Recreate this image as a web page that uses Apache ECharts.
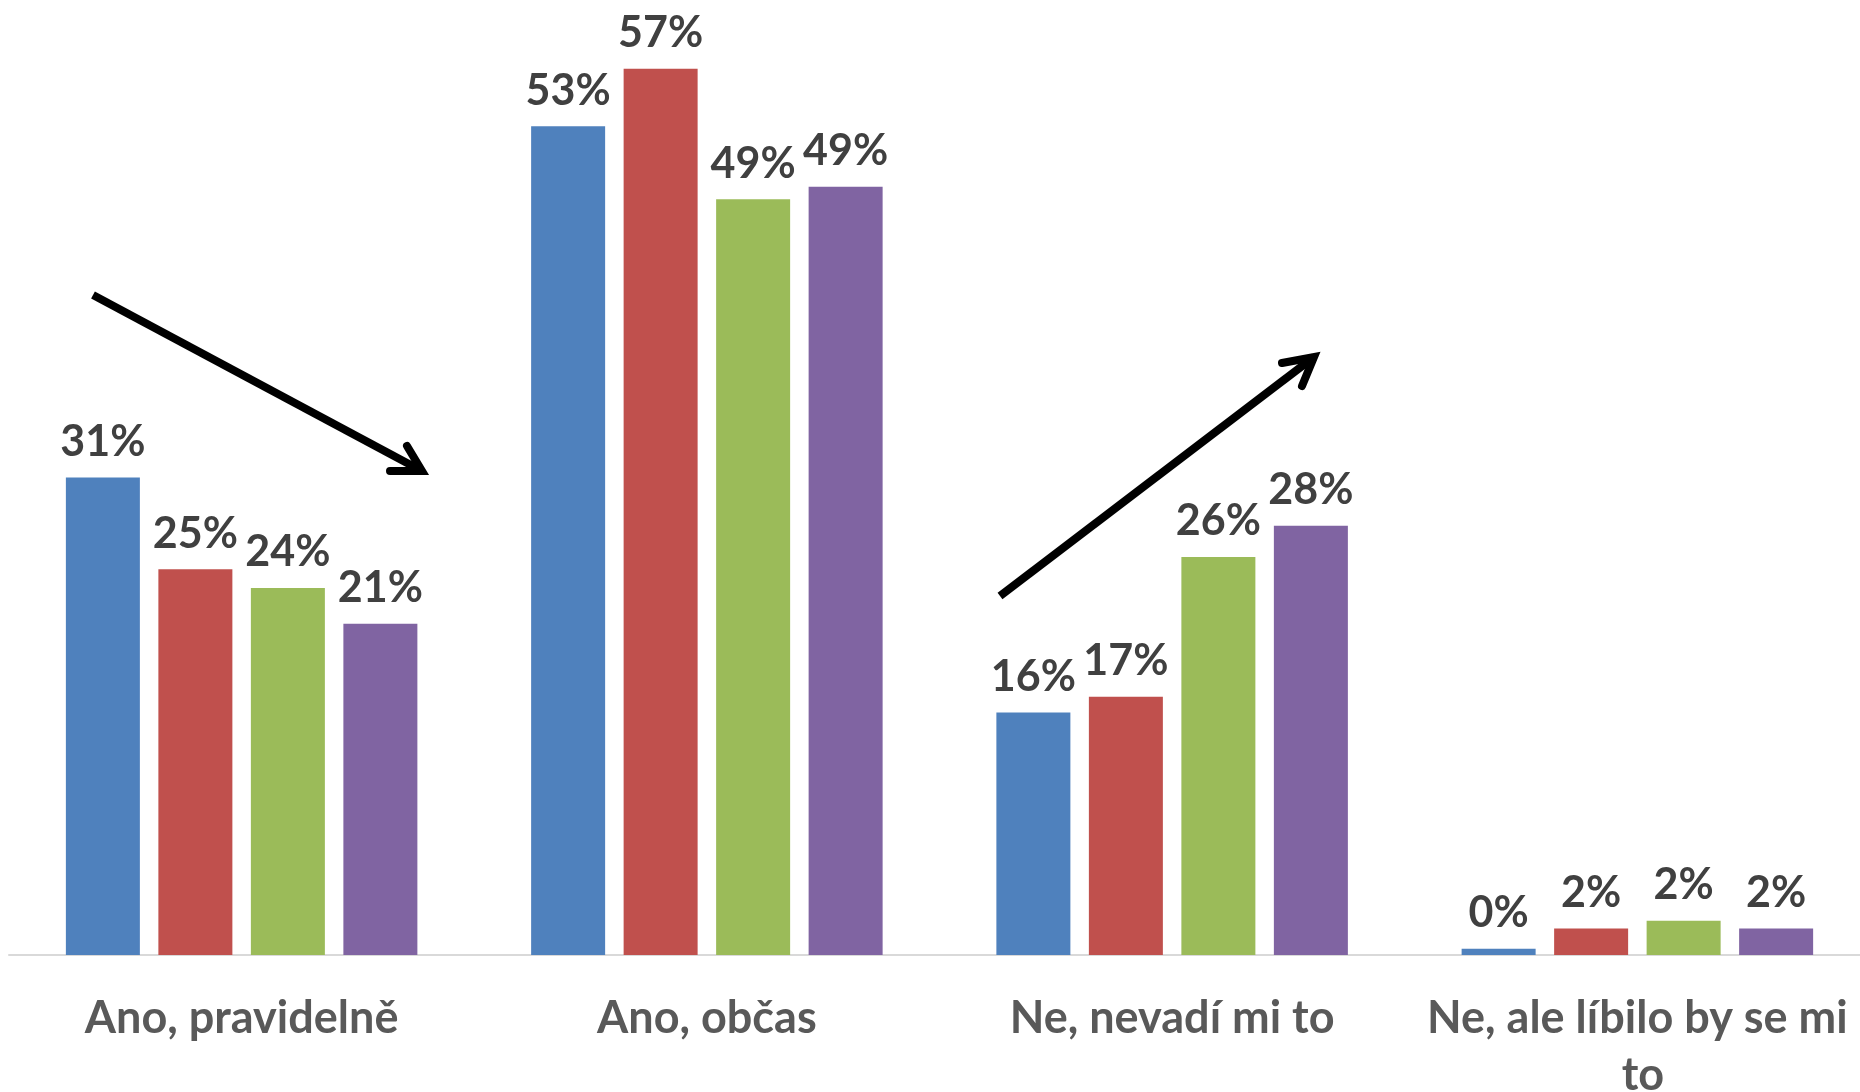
<!DOCTYPE html>
<html>
<head>
<meta charset="utf-8">
<script src="https://cdn.jsdelivr.net/npm/echarts@6/dist/echarts.min.js"></script>
<style>
  html, body { margin: 0; padding: 0; background: #fff; }
  #chart { width: 1860px; height: 1092px; }
</style>
</head>
<body>
<div id="chart"></div>
<script>
// kategorie a hodnoty (v %)
var categories = ['Ano, pravidelně', 'Ano, občas', 'Ne, nevadí mi to', 'Ne, ale líbilo by se mi to'];
var seriesNames = ['Série 1', 'Série 2', 'Série 3', 'Série 4'];
var values1 = [30.7, 53.3, 15.6, 0.4];
var values2 = [24.8, 57.0, 16.6, 1.7];
var values3 = [23.6, 48.6, 25.6, 2.2];
var values4 = [21.3, 49.4, 27.6, 1.7];
var colors = ['#4f81bd', '#c0504d', '#9bbb59', '#8064a2'];

var myChart = echarts.init(document.getElementById('chart'));

function makeSeries(name, data, color) {
    return {
        name: name,
        type: 'bar',
        barWidth: 74,
        barGap: '25%',
        itemStyle: { color: color },
        label: {
            show: true,
            position: 'top',
            distance: 14,
            color: '#404040',
            fontSize: 43,
            fontWeight: 'bold',
            fontFamily: 'Lato',
            formatter: function (p) { return Math.round(p.value) + '%'; }
        },
        data: data
    };
}

// šipky (anotace)
function arrow(x1, y1, x2, y2, a1, a2) {
    return [{
        type: 'line',
        shape: { x1: x1, y1: y1, x2: x2, y2: y2 },
        style: { stroke: '#000', lineWidth: 8 }
    }, {
        type: 'polyline',
        shape: { points: [a1, [x2, y2], a2] },
        style: { stroke: '#000', lineWidth: 8, fill: null, lineJoin: 'miter', lineCap: 'round' }
    }];
}

var option = {
    animation: false,
    grid: { left: 9, right: -10, top: 22, bottom: 137, containLabel: false, outerBoundsMode: 'none' },
    xAxis: {
        type: 'category',
        data: categories,
        axisTick: { show: false },
        axisLine: { lineStyle: { color: '#d9d9d9', width: 2 } },
        axisLabel: {
            color: '#595959',
            fontSize: 45,
            fontWeight: 'bold',
            fontFamily: 'Lato',
            margin: 35,
            lineHeight: 57,
            width: 462,
            overflow: 'break',
            interval: 0
        }
    },
    yAxis: {
        type: 'value',
        min: 0,
        max: 60,
        show: false
    },
    series: [
        makeSeries(seriesNames[0], values1, colors[0]),
        makeSeries(seriesNames[1], values2, colors[1]),
        makeSeries(seriesNames[2], values3, colors[2]),
        makeSeries(seriesNames[3], values4, colors[3])
    ],
    graphic: [].concat(
        arrow(93, 295, 422, 471, [407, 446], [390, 471]),
        arrow(1000, 596, 1314, 357, [1282, 363], [1302, 386])
    )
};

myChart.setOption(option);
</script>
</body>
</html>
